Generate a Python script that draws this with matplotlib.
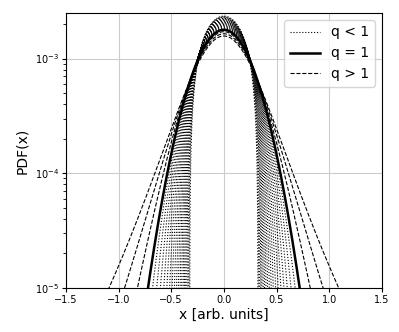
import numpy as np
import matplotlib.pyplot as plt
from math import gamma, sqrt, pi

# q-Gaussian parameters
q_below = [0.05, 0.1, 0.15, 0.2, 0.25, 0.3, 0.35, 0.4, 0.45, 0.5,
           0.55, 0.6, 0.65, 0.7, 0.75, 0.8, 0.85, 0.9, 0.95]
q_one = 1.0
q_above = [1.1, 1.2, 1.3]
beta = 10.0
bin_width = 0.001

x = np.linspace(-1.5, 1.5, 3001)


def c_q(q):
    if q < 1:
        return 2 * sqrt(pi) * gamma(1 / (1 - q)) / ((3 - q) * sqrt(1 - q) * gamma((3 - q) / (2 * (1 - q))))
    if q == 1:
        return sqrt(pi)
    return sqrt(pi) * gamma((3 - q) / (2 * (q - 1))) / (sqrt(q - 1) * gamma(1 / (q - 1)))


def q_gauss(x, q):
    if q == 1:
        e = np.exp(-beta * x ** 2)
    else:
        base = 1 - (1 - q) * beta * x ** 2
        e = np.where(base > 0, np.abs(base) ** (1 / (1 - q)), 0.0)
    return sqrt(beta) / c_q(q) * e * bin_width


fig, ax = plt.subplots(figsize=(3.99, 3.32), dpi=100)
fig.subplots_adjust(left=0.165, right=0.957, top=0.961, bottom=0.133)

for i, q in enumerate(q_below):
    y = q_gauss(x, q)
    y[y <= 0] = np.nan
    ax.plot(x, y, ':', color='black', lw=0.8, label='q < 1' if i == 0 else None)
ax.plot(x, q_gauss(x, q_one), '-', color='black', lw=1.8, label='q = 1')
for i, q in enumerate(q_above):
    ax.plot(x, q_gauss(x, q), '--', color='black', lw=0.8, label='q > 1' if i == 0 else None)

ax.set_yscale('log')
ax.set_xlim(-1.5, 1.5)
ax.set_ylim(1e-5, 2.5e-3)
ax.grid(True, color='#cccccc', lw=0.8)
ax.tick_params(labelsize=7, length=3, pad=2)
ax.tick_params(which='minor', length=2)
ax.set_xlabel('x [arb. units]', fontsize=10, labelpad=2)
ax.set_ylabel('PDF(x)', fontsize=10)
ax.legend(loc='upper right', fontsize=10, handlelength=2.2)

fig.savefig('out.png', dpi=100)
